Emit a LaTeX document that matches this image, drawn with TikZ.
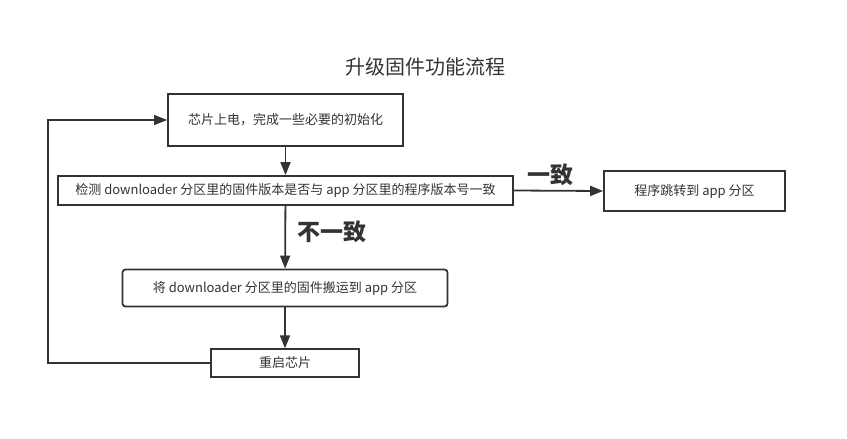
\documentclass[tikz,border=0pt]{standalone}
\usepackage{fontspec}
\setmainfont{Noto Sans CJK SC}
\usetikzlibrary{arrows.meta,positioning}
\definecolor{ink}{HTML}{333333}
\tikzset{stepbox/.style={draw=ink, line width=1.8pt, inner sep=0pt, text=ink, font=\fontsize{13}{15}\selectfont}}
\tikzset{arr/.style={draw=ink, line width=1.8pt, -{Triangle[length=13pt,width=10pt]}}}
\tikzset{cond/.style={text=ink, font=\fontsize{23}{26}\selectfont\bfseries}}

\begin{document}
\begin{tikzpicture}[x=1pt, y=-1pt]
		\useasboundingbox (0,0) rectangle (847,439);
		\node[text=ink, font=\fontsize{20}{24}\selectfont] (title) at (425,67){升级固件功能流程};
		
		\node[stepbox, minimum width=235pt, minimum height=52pt] (init) at (285.5,120){芯片上电，完成一些必要的初始化};
		\node[stepbox, minimum width=455pt, minimum height=29pt] (check) at (285.5,190.5){检测 downloader 分区里的固件版本是否与 app 分区里的程序版本号一致};
		\node[stepbox, minimum width=181pt, minimum height=40pt] (jump) at (694.5,191){程序跳转到 app 分区};
		\node[stepbox, rounded corners=3pt, minimum width=325pt, minimum height=37pt] (copy) at (285,288){将 downloader 分区里的固件搬运到 app 分区};
		\node[stepbox, minimum width=148pt, minimum height=27.5pt] (rst) at (285,363){重启芯片};
		
		\draw[arr] (init) -- (check);
		\draw[arr] (check) -- (copy);
		\draw[arr] (copy) -- (rst);
		\draw[arr] (check.east) -- (jump.west);
		
		\coordinate (back) at (48,363);
		\draw[arr, line width=1.5pt] (rst.west) -- (back) |- (init.west);
		
		\node[cond] (same) at (550,175){一致};
		\node[cond] (diff) at (332,232){不一致};
	\end{tikzpicture}
\end{document}
